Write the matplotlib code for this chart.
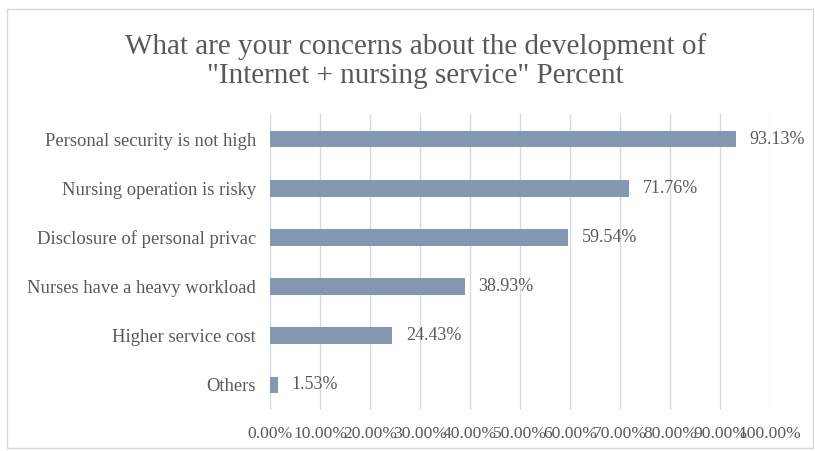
import matplotlib
matplotlib.use("Agg")
import matplotlib.pyplot as plt
from matplotlib.patches import Rectangle
from matplotlib.ticker import FuncFormatter, MultipleLocator

categories = [
    "Personal security is not high",
    "Nursing operation is risky",
    "Disclosure of personal privac",
    "Nurses have a heavy workload",
    "Higher service cost",
    "Others",
]
percents = [93.13, 71.76, 59.54, 38.93, 24.43, 1.53]

title = 'What are your concerns about the development of\n"Internet + nursing service" Percent'

text_color = "#595959"
bar_color = "#8497B0"
grid_color = "#D9D9D9"

plt.rcParams["font.family"] = ["Liberation Serif", "DejaVu Serif"]

fig = plt.figure(figsize=(8.15, 4.51), dpi=100)
ax = fig.add_axes([0.3313, 0.0918, 0.6135, 0.6545])

y = list(range(len(categories)))
ax.barh(y, percents, height=0.34, color=bar_color, zorder=3)
ax.set_ylim(len(categories) - 0.5, -0.5)
ax.set_xlim(0, 100)
ax.set_yticks(y)
ax.set_yticklabels(categories, fontsize=13.4, color=text_color)

ax.xaxis.set_major_locator(MultipleLocator(10))
ax.xaxis.set_major_formatter(FuncFormatter(lambda v, _: f"{v:.2f}%"))
ax.tick_params(axis="x", labelsize=12.6, labelcolor=text_color, length=0, pad=12)
ax.tick_params(axis="y", length=0, pad=10)

ax.grid(axis="x", color=grid_color, linewidth=1.0, zorder=0)
for s in ax.spines.values():
    s.set_visible(False)

for yi, v in zip(y, percents):
    ax.annotate(f"{v:.2f}%", xy=(v, yi), xytext=(10, 0), textcoords="offset points",
                va="center", ha="left", fontsize=13, color=text_color)

fig.text(0.51, 0.865, title, ha="center", va="center", fontsize=21,
         color=text_color, linespacing=1.12)

fig.patches.append(Rectangle((0.008, 0.006), 0.99, 0.975, transform=fig.transFigure,
                             fill=False, edgecolor="#D9D9D9", linewidth=1.0))

fig.savefig("out.png", dpi=100, facecolor="white")
